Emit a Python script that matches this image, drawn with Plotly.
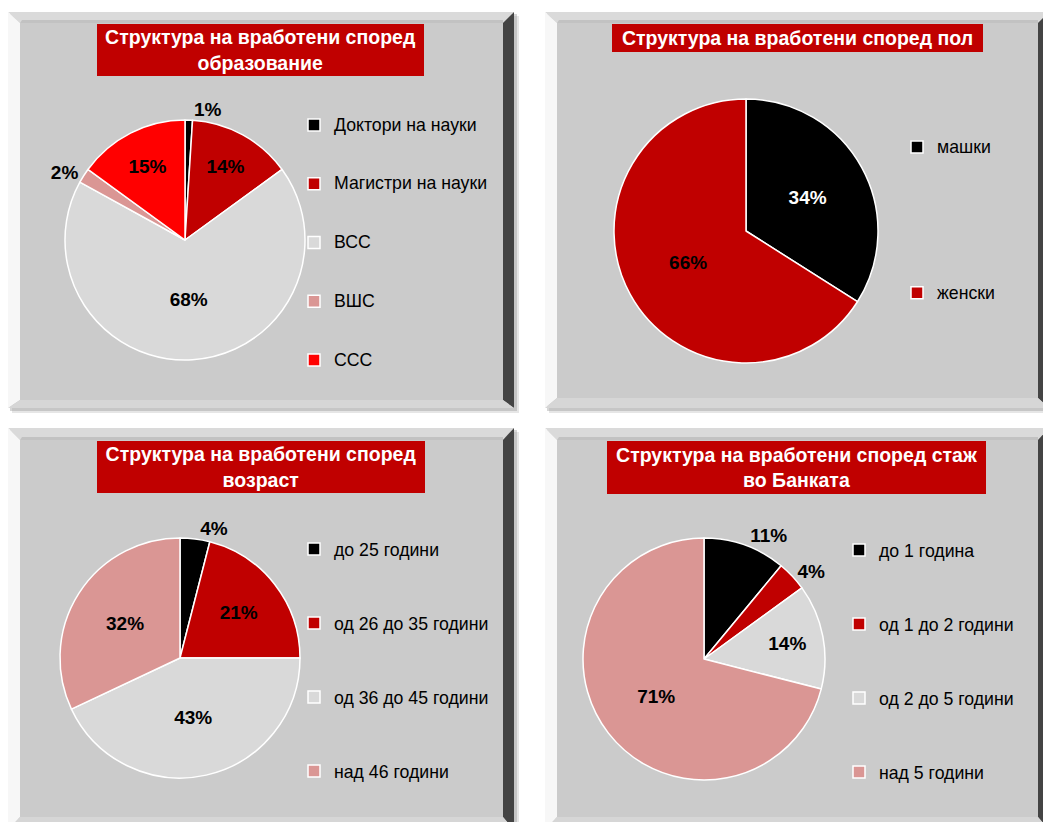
import plotly.graph_objects as go

W, H = 1043, 822
FONT = "Liberation Sans, Arial, sans-serif"

# ---------------- data ----------------
edu_labels = ["Доктори на науки", "Магистри на науки", "ВСС", "ВШС", "ССС"]
edu_values = [1, 14, 68, 2, 15]

gender_labels = ["машки", "женски"]
gender_values = [34, 66]

age_labels = ["до 25 години", "од 26 до 35 години", "од 36 до 45 години", "над 46 години"]
age_values = [4, 21, 43, 32]

tenure_labels = ["до 1 година", "од 1 до 2 години", "од 2 до 5 години", "над 5 години"]
tenure_values = [11, 4, 14, 71]

titles = [
    "Структура на вработени според<br>образование",
    "Структура на вработени според пол",
    "Структура на вработени според<br>возраст",
    "Структура на вработени според стаж<br>во Банката",
]

# ---------------- styles ----------------
BLACK, DRED, LGRAY, PINK, RED = "#000000", "#C00000", "#D9D9D9", "#DA9694", "#FF0000"
edu_colors = [BLACK, DRED, LGRAY, PINK, RED]
gender_colors = [BLACK, DRED]
age_colors = [BLACK, DRED, LGRAY, PINK]
tenure_colors = [BLACK, DRED, LGRAY, PINK]
LABEL_SIZE = 19
LEGEND_TEXT = 17.7


def fx(x):
    return x / W


def fy(y):
    return 1 - y / H


fig = go.Figure()


def legend_label(text, nlines):
    pad = (nlines - 1) // 2
    return (" <br>" * pad + f"<span style='font-size:{LEGEND_TEXT}px'>" + text
            + "</span>" + "<br> " * pad)


def add_pie(labels, values, colors, positions, textcolors, cx, cy, r, legend_name, nlines):
    fig.add_trace(go.Pie(
        labels=[legend_label(l, nlines) for l in labels],
        values=values,
        sort=False,
        direction="clockwise",
        rotation=0,
        marker=dict(colors=colors, line=dict(color="white", width=1.5)),
        textposition=positions,
        texttemplate="%{percent:.0%}",
        insidetextorientation="horizontal",
        insidetextfont=dict(family=FONT, size=LABEL_SIZE, color=textcolors, weight="bold"),
        outsidetextfont=dict(family=FONT, size=LABEL_SIZE, color="black", weight="bold"),
        automargin=False,
        domain=dict(x=[fx(cx - r), fx(cx + r)], y=[fy(cy + r), fy(cy - r)]),
        legend=legend_name,
        hoverinfo="skip",
    ))


add_pie(edu_labels, edu_values, edu_colors,
        ["outside", "inside", "inside", "outside", "inside"],
        ["black"] * 5, 185, 240, 120, "legend", 3)
add_pie(gender_labels, gender_values, gender_colors,
        ["inside", "inside"], ["white", "black"], 746, 231, 132, "legend2", 7)
add_pie(age_labels, age_values, age_colors,
        ["outside", "inside", "inside", "inside"],
        ["black"] * 4, 180, 658, 120, "legend3", 3)
add_pie(tenure_labels, tenure_values, tenure_colors,
        ["outside", "outside", "inside", "inside"],
        ["black"] * 4, 704, 659, 121, "legend4", 3)

# ---------------- panel frames ----------------
shapes = []


def poly(pts, color):
    d = "M " + " L ".join(f"{fx(x):.5f},{fy(y):.5f}" for x, y in pts) + " Z"
    shapes.append(dict(type="path", xref="paper", yref="paper", path=d,
                       fillcolor=color, line=dict(width=0), layer="below"))


def rect(x0, y0, x1, y1, color, opacity=1.0):
    shapes.append(dict(type="rect", xref="paper", yref="paper",
                       x0=fx(x0), x1=fx(x1), y0=fy(y1), y1=fy(y0),
                       fillcolor=color, opacity=opacity, line=dict(width=0), layer="below"))


panels = [
    ((8, 12, 514, 408), (20, 23, 503, 400)),
    ((545, 12, 1049, 408), (557, 23, 1038, 398)),
    ((8, 428, 514, 830), (20, 440, 503, 817)),
    ((545, 428, 1049, 830), (557, 440, 1038, 817)),
]
for (x0, y0, x1, y1), (ix0, iy0, ix1, iy1) in panels:
    # soft shadow
    rect(x0 + 4, y0 + 4, x1 + 5, y1 + 5, "#9A9A9A", 0.25)
    rect(x0 + 2, y0 + 2, x1 + 3, y1 + 3, "#8A8A8A", 0.35)
    # bevel sides
    poly([(x0, y0), (x1, y0), (ix1, iy0), (ix0, iy0)], "#DADADA")
    poly([(ix0 + 2, iy0 - 3), (ix1, iy0 - 3), (ix1, iy0), (ix0, iy0)], "#C2C2C2")
    poly([(x0, y0), (ix0, iy0), (ix0, iy1), (x0, y1)], "#F7F7F7")
    poly([(x1, y0), (x1, y1), (ix1, iy1), (ix1, iy0)], "#444444")
    poly([(x0, y1), (x1, y1), (ix1, iy1), (ix0, iy1)], "#D6D6D6")
    # face
    rect(ix0, iy0, ix1, iy1, "#CBCBCB")

# ---------------- titles ----------------
title_boxes = [
    (260.5, 50, 327, 52),
    (797.5, 38, 371, 28),
    (261, 467, 328, 52),
    (796.5, 467.5, 379, 53),
]
annotations = []
for t, (cx, cy, bw, bh) in zip(titles, title_boxes):
    annotations.append(dict(
        text=t, x=fx(cx), y=fy(cy), xref="paper", yref="paper",
        xanchor="center", yanchor="middle", showarrow=False,
        font=dict(family=FONT, size=19.5, color="white", weight="bold"),
        bgcolor="#C00000", borderpad=0, borderwidth=0,
        width=bw, height=bh, align="center", valign="middle",
    ))


def legend_cfg(x, y, fs):
    return dict(x=fx(x), y=fy(y), xanchor="left", yanchor="top",
                bgcolor="rgba(0,0,0,0)", borderwidth=0,
                font=dict(family=FONT, size=fs, color="black"))


fig.update_layout(
    width=W, height=H,
    margin=dict(l=0, r=0, t=0, b=0, pad=0),
    paper_bgcolor="white",
    plot_bgcolor="white",
    showlegend=True,
    shapes=shapes,
    annotations=annotations,
    legend=legend_cfg(294, 90.6, 14.3),
    legend2=legend_cfg(897, 69, 15.7),
    legend3=legend_cfg(294, 507, 18.2),
    legend4=legend_cfg(839, 508, 18.2),
    uniformtext=dict(minsize=LABEL_SIZE, mode="show"),
)

fig.write_html(
    "out.html",
    config={"displayModeBar": False},
    post_script="document.body.style.margin='0';document.body.style.overflow='hidden';",
)
